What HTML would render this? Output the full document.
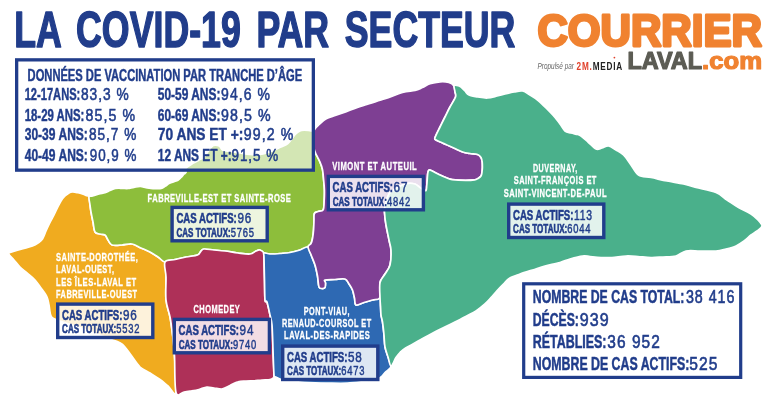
<!DOCTYPE html>
<html lang="fr">
<head>
<meta charset="utf-8">
<title>La COVID-19 par secteur</title>
<style>
html,body{margin:0;padding:0;background:#fff;}
body{width:768px;height:402px;overflow:hidden;font-family:"Liberation Sans", sans-serif;}
svg{display:block;font-family:"Liberation Sans", sans-serif;}
</style>
</head>
<body>
<svg width="768" height="402" viewBox="0 0 768 402">
<rect width="768" height="402" fill="#fff"/>
<g stroke="#fff" stroke-width="1.7" stroke-linejoin="round">
<path fill="#f0ab1f" d="M8.8 253.5C8.9 252.0 12.5 251.8 15.0 251.0C17.5 250.2 21.1 249.3 24.0 248.5C26.9 247.7 30.2 246.9 32.5 246.0C34.8 245.1 36.3 244.2 38.0 243.0C39.7 241.8 41.2 241.0 42.5 239.0C43.8 237.0 44.8 233.8 46.0 231.0C47.2 228.2 48.7 225.2 50.0 222.5C51.3 219.8 52.8 217.5 54.0 215.0C55.2 212.5 56.3 209.8 57.5 207.5C58.7 205.2 59.8 202.9 61.0 201.0C62.2 199.1 63.7 197.3 65.0 196.0C66.3 194.7 67.8 193.7 69.0 193.0C70.2 192.3 71.0 192.1 72.5 192.0C74.0 191.9 76.3 192.4 78.0 192.7C79.7 193.0 81.2 193.5 82.5 194.0C83.8 194.5 84.9 195.0 86.0 195.5C87.1 196.0 88.3 195.4 89.0 197.0C89.7 198.6 89.7 202.5 90.0 205.0C90.3 207.5 90.5 209.2 91.0 212.0C91.5 214.8 92.3 218.7 93.0 222.0C93.7 225.3 93.8 230.0 95.0 232.0C96.2 234.0 98.3 233.5 100.0 234.0C101.7 234.5 103.7 234.0 105.0 235.0C106.3 236.0 106.8 238.3 108.0 240.0C109.2 241.7 109.7 244.2 112.0 245.0C114.3 245.8 118.7 245.2 122.0 245.0C125.3 244.8 128.8 243.5 132.0 244.0C135.2 244.5 138.0 246.7 141.0 248.0C144.0 249.3 147.2 250.5 150.0 252.0C152.8 253.5 155.5 255.3 158.0 257.0C160.5 258.7 163.7 258.7 165.0 262.0C166.3 265.3 165.8 270.7 166.0 277.0C166.2 283.3 165.3 293.3 166.0 300.0C166.7 306.7 168.8 310.7 170.0 317.0C171.2 323.3 172.2 331.5 173.0 338.0C173.8 344.5 174.0 346.9 174.5 356.0C175.0 365.1 177.1 387.5 176.0 392.5C174.9 397.5 170.7 388.2 168.0 386.0C165.3 383.8 163.0 381.7 160.0 379.5C157.0 377.3 153.3 375.1 150.0 373.0C146.7 370.9 143.2 370.0 140.0 367.0C136.8 364.0 133.9 358.8 131.0 355.0C128.1 351.2 125.0 346.8 122.5 344.5C120.0 342.2 118.1 341.9 116.0 341.0C113.9 340.1 115.3 341.0 110.0 339.0C104.7 337.0 92.8 332.2 84.0 329.0C75.2 325.8 62.5 322.2 57.0 320.0C51.5 317.8 52.3 318.5 51.0 316.0C49.7 313.5 49.7 308.2 49.0 305.0C48.3 301.8 48.3 299.8 47.0 297.0C45.7 294.2 43.0 290.8 41.0 288.0C39.0 285.2 37.3 282.5 35.0 280.0C32.7 277.5 29.5 275.2 27.0 273.0C24.5 270.8 22.2 269.2 20.0 267.0C17.8 264.8 15.9 262.2 14.0 260.0C12.1 257.8 8.6 255.0 8.8 253.5Z"/>
<path fill="#8dbe3b" d="M89.0 197.0C89.4 195.5 90.8 196.5 92.5 196.0C94.2 195.5 96.9 194.6 99.0 194.0C101.1 193.4 103.2 193.3 105.0 192.7C106.8 192.1 108.3 191.2 110.0 190.5C111.7 189.8 113.4 188.9 115.4 188.5C117.4 188.1 119.9 188.3 122.0 188.3C124.1 188.3 126.0 188.7 128.0 188.5C130.0 188.3 131.9 187.6 134.0 187.3C136.1 187.0 138.4 186.4 140.4 186.5C142.4 186.6 144.3 187.4 146.0 187.7C147.7 188.0 149.1 188.3 150.8 188.5C152.5 188.7 154.3 188.7 156.0 188.7C157.7 188.7 159.7 188.9 161.2 188.5C162.8 188.1 164.1 186.9 165.5 186.0C166.9 185.1 168.2 184.0 169.6 183.3C171.0 182.6 172.6 182.2 174.0 181.7C175.4 181.2 176.8 180.9 178.0 180.2C179.2 179.5 180.0 178.5 181.0 177.5C182.0 176.5 183.3 174.9 184.2 174.0C185.1 173.1 186.0 172.8 186.2 171.9C186.5 171.0 184.6 169.9 185.8 168.4C187.0 166.9 191.2 164.5 193.4 163.1C195.6 161.7 197.2 161.0 199.0 160.0C200.8 159.0 202.7 158.5 204.0 157.3C205.3 156.1 206.0 154.4 207.0 153.0C208.0 151.6 208.8 150.2 209.9 149.0C211.0 147.8 211.9 146.0 213.4 145.5C214.9 145.0 217.6 145.3 219.2 146.1C220.8 146.9 220.8 149.3 222.8 150.2C224.7 151.1 228.1 151.0 231.0 151.5C233.9 152.0 236.8 152.5 240.0 153.0C243.2 153.5 246.7 154.2 250.0 154.5C253.3 154.8 257.0 154.8 260.0 154.5C263.0 154.2 265.4 153.3 268.0 152.5C270.6 151.7 273.4 150.3 275.6 149.4C277.8 148.5 279.2 147.8 281.0 147.0C282.8 146.2 284.8 145.8 286.5 144.6C288.2 143.4 289.6 141.6 291.0 140.0C292.4 138.4 293.5 136.3 294.7 135.0C295.9 133.7 296.9 132.8 298.0 132.0C299.1 131.2 299.9 130.6 301.6 130.3C303.3 130.0 306.8 130.2 308.4 130.3C310.0 130.4 310.5 131.1 311.5 131.0C312.5 130.9 314.0 128.5 314.3 130.0C314.6 131.5 313.5 136.7 313.5 140.0C313.5 143.3 313.8 147.2 314.3 149.8C314.9 152.4 315.9 153.7 316.8 155.7C317.7 157.7 318.9 159.4 319.8 161.7C320.8 164.0 321.9 166.6 322.5 169.6C323.1 172.6 323.3 176.2 323.6 179.6C323.9 183.0 324.3 186.4 324.4 189.8C324.5 193.2 324.4 196.7 324.2 200.0C324.0 203.3 324.2 207.9 323.2 209.8C322.2 211.7 319.5 210.9 318.0 211.5C316.5 212.1 315.1 212.1 314.4 213.5C313.7 214.9 314.1 217.3 314.0 220.0C313.9 222.7 313.8 226.5 313.6 229.5C313.4 232.5 313.0 235.7 312.6 238.0C312.2 240.3 311.8 242.0 311.0 243.5C310.2 245.0 309.8 245.9 308.0 247.0C306.2 248.1 303.0 249.1 300.0 250.0C297.0 250.9 293.3 251.9 290.0 252.5C286.7 253.1 283.3 253.2 280.0 253.5C276.7 253.8 272.7 254.1 270.0 254.0C267.3 253.9 265.7 253.7 264.0 253.0C262.3 252.3 261.3 250.3 260.0 250.0C258.7 249.7 257.7 250.3 256.0 251.0C254.3 251.7 253.0 253.7 250.0 254.0C247.0 254.3 242.2 253.5 238.0 253.0C233.8 252.5 229.0 251.5 225.0 251.0C221.0 250.5 217.5 250.3 214.0 250.0C210.5 249.7 206.2 248.8 204.0 249.0C201.8 249.2 202.1 250.0 201.0 251.0C199.9 252.0 200.0 254.0 197.5 255.0C195.0 256.0 189.8 256.2 186.0 257.0C182.2 257.8 178.5 258.7 175.0 259.5C171.5 260.3 167.8 262.4 165.0 262.0C162.2 261.6 160.5 258.7 158.0 257.0C155.5 255.3 152.8 253.5 150.0 252.0C147.2 250.5 144.0 249.3 141.0 248.0C138.0 246.7 135.2 244.5 132.0 244.0C128.8 243.5 125.3 244.8 122.0 245.0C118.7 245.2 114.3 245.8 112.0 245.0C109.7 244.2 109.2 241.7 108.0 240.0C106.8 238.3 106.3 236.0 105.0 235.0C103.7 234.0 101.7 234.5 100.0 234.0C98.3 233.5 96.2 234.0 95.0 232.0C93.8 230.0 93.7 225.3 93.0 222.0C92.3 218.7 91.5 214.8 91.0 212.0C90.5 209.2 90.3 207.5 90.0 205.0C89.7 202.5 88.6 198.5 89.0 197.0Z"/>
<path fill="#ae3058" d="M165.0 262.0C166.5 259.1 171.5 260.3 175.0 259.5C178.5 258.7 182.2 257.8 186.0 257.0C189.8 256.2 195.0 256.0 197.5 255.0C200.0 254.0 199.9 252.0 201.0 251.0C202.1 250.0 201.8 249.2 204.0 249.0C206.2 248.8 210.5 249.7 214.0 250.0C217.5 250.3 221.0 250.5 225.0 251.0C229.0 251.5 233.8 252.5 238.0 253.0C242.2 253.5 247.0 254.3 250.0 254.0C253.0 253.7 254.3 251.7 256.0 251.0C257.7 250.3 258.7 249.7 260.0 250.0C261.3 250.3 263.3 251.8 264.0 253.0C264.7 254.2 263.9 253.0 264.0 257.5C264.1 262.0 264.3 272.9 264.5 280.0C264.7 287.1 264.6 296.3 265.0 300.0C265.4 303.7 266.2 299.5 267.0 302.0C267.8 304.5 269.2 311.2 270.0 315.0C270.8 318.8 271.5 319.2 272.0 325.0C272.5 330.8 272.7 341.7 273.0 350.0C273.3 358.3 274.0 370.3 274.0 375.0C274.0 379.7 273.7 377.2 273.0 378.0C272.3 378.8 271.8 379.2 270.0 379.5C268.2 379.8 264.7 379.8 262.0 380.0C259.3 380.2 256.4 380.6 253.8 380.8C251.1 380.9 248.6 380.8 246.0 381.0C243.4 381.2 240.8 380.9 238.1 381.7C235.4 382.4 232.6 384.3 230.0 385.5C227.4 386.7 225.2 388.5 222.5 388.9C219.8 389.3 216.6 388.3 214.0 388.0C211.4 387.7 209.4 386.8 206.9 387.0C204.4 387.2 201.6 388.8 199.0 389.5C196.4 390.2 193.8 390.6 191.3 391.0C188.8 391.4 186.6 391.8 184.0 392.0C181.4 392.2 177.6 398.5 176.0 392.5C174.4 386.5 175.0 365.1 174.5 356.0C174.0 346.9 173.8 344.5 173.0 338.0C172.2 331.5 171.2 323.3 170.0 317.0C168.8 310.7 166.7 306.7 166.0 300.0C165.3 293.3 166.2 283.3 166.0 277.0C165.8 270.7 163.5 264.9 165.0 262.0Z"/>
<path fill="#2e69b3" d="M264.0 253.0C265.0 252.4 267.3 253.9 270.0 254.0C272.7 254.1 276.7 253.8 280.0 253.5C283.3 253.2 286.7 253.1 290.0 252.5C293.3 251.9 297.0 250.9 300.0 250.0C303.0 249.1 306.1 246.0 308.0 247.0C309.9 248.0 310.3 253.0 311.5 256.0C312.7 259.0 314.0 261.7 315.0 265.0C316.0 268.3 316.8 272.3 317.5 276.0C318.2 279.7 318.2 284.9 319.0 287.0C319.8 289.1 321.0 288.4 322.0 288.5C323.0 288.6 324.4 288.4 325.0 287.5C325.6 286.6 325.5 284.2 325.5 283.0C325.5 281.8 323.4 280.6 325.0 280.0C326.6 279.4 331.7 279.7 335.0 279.5C338.3 279.3 342.7 278.2 345.0 279.0C347.3 279.8 347.8 282.2 349.0 284.0C350.2 285.8 351.6 287.7 352.5 290.0C353.4 292.3 353.9 295.5 354.5 298.0C355.1 300.5 354.4 304.2 356.0 305.0C357.6 305.8 361.2 303.3 364.0 302.5C366.8 301.7 369.8 300.8 372.5 300.0C375.2 299.2 378.7 296.5 380.0 297.5C381.3 298.5 380.3 303.1 380.5 306.0C380.7 308.9 380.7 312.3 381.0 315.0C381.3 317.7 382.0 318.7 382.5 322.0C383.0 325.3 383.6 330.8 384.0 335.0C384.4 339.2 384.3 343.3 385.0 347.0C385.7 350.7 387.0 353.8 388.0 357.0C389.0 360.2 391.0 363.8 391.0 366.0C391.0 368.2 389.0 368.9 388.0 370.0C387.0 371.1 386.2 371.3 385.0 372.5C383.8 373.7 382.6 375.8 381.0 377.0C379.4 378.2 378.3 379.2 375.6 380.0C372.9 380.8 369.7 381.0 365.0 381.5C360.3 382.0 353.0 383.0 347.5 383.2C342.0 383.5 338.1 383.4 331.9 383.2C325.6 383.1 316.1 382.8 310.0 382.5C303.9 382.2 299.2 381.8 295.0 381.5C290.8 381.2 287.5 381.2 285.0 380.8C282.5 380.3 281.6 379.6 280.0 379.0C278.4 378.4 276.6 377.7 275.6 377.0C274.6 376.3 274.4 379.5 274.0 375.0C273.6 370.5 273.3 358.3 273.0 350.0C272.7 341.7 272.5 330.8 272.0 325.0C271.5 319.2 270.8 318.8 270.0 315.0C269.2 311.2 267.8 304.5 267.0 302.0C266.2 299.5 265.4 303.7 265.0 300.0C264.6 296.3 264.7 287.1 264.5 280.0C264.3 272.9 264.1 262.0 264.0 257.5C263.9 253.0 263.0 253.6 264.0 253.0Z"/>
<path fill="#7e3f93" d="M314.3 130.0C315.4 127.3 317.9 125.8 319.8 124.0C321.7 122.2 323.5 120.3 325.8 119.0C328.1 117.7 330.0 117.3 333.7 116.0C337.4 114.7 342.8 112.8 348.0 111.0C353.2 109.2 358.8 107.0 365.0 105.0C371.2 103.0 378.8 100.8 385.0 98.8C391.2 96.7 397.5 93.9 402.5 92.5C407.5 91.1 411.7 91.3 415.0 90.5C418.3 89.7 420.0 88.6 422.5 87.5C425.0 86.4 427.1 84.7 430.0 83.8C432.9 82.8 436.9 82.0 440.0 81.8C443.1 81.5 446.4 81.8 448.8 82.5C451.1 83.2 453.0 84.4 454.0 86.0C455.0 87.6 454.8 90.2 455.0 92.0C455.2 93.8 456.3 94.5 455.5 97.0C454.7 99.5 451.8 103.7 450.0 107.0C448.2 110.3 446.7 113.7 445.0 117.0C443.3 120.3 441.7 123.6 440.0 127.0C438.3 130.4 435.7 135.3 435.0 137.5C434.3 139.7 434.8 139.1 436.0 140.0C437.2 140.9 440.3 142.0 442.5 143.0C444.7 144.0 447.1 145.0 449.3 146.0C451.6 147.0 453.8 148.0 456.0 149.0C458.2 150.0 460.4 151.2 462.7 152.0C465.0 152.8 467.5 153.1 470.0 153.5C472.5 153.9 475.8 153.8 477.6 154.5C479.4 155.2 480.2 156.2 481.0 157.5C481.8 158.8 482.0 160.4 482.2 162.0C482.4 163.6 482.4 165.3 482.4 167.0C482.4 168.7 482.2 170.5 482.0 172.0C481.8 173.5 481.7 174.9 481.0 176.0C480.3 177.1 479.1 177.9 478.0 178.5C476.9 179.1 476.7 179.5 474.6 179.8C472.6 180.1 469.4 180.3 465.7 180.3C462.0 180.3 455.3 180.0 452.2 179.6C449.1 179.2 448.7 178.6 447.0 178.0C445.3 177.4 443.6 176.6 441.8 175.8C440.0 175.0 437.8 173.9 436.0 173.0C434.2 172.1 432.4 171.1 431.3 170.6C430.2 170.1 429.7 169.6 429.1 170.0C428.5 170.4 428.1 171.1 427.8 172.8C427.5 174.5 427.4 177.8 427.2 180.0C427.0 182.2 426.9 184.2 426.7 186.0C426.5 187.8 426.7 189.9 426.0 190.5C425.3 191.1 423.6 190.0 422.4 189.3C421.1 188.6 419.7 187.2 418.5 186.3C417.3 185.4 416.6 184.5 415.0 184.0C413.4 183.5 410.8 183.2 409.0 183.3C407.2 183.4 406.0 183.8 404.5 184.3C403.0 184.8 401.8 185.4 400.0 186.3C398.2 187.2 395.8 188.8 394.0 190.0C392.2 191.2 390.6 191.7 389.3 193.4C388.1 195.1 387.2 197.9 386.5 200.0C385.8 202.1 385.3 203.9 385.0 206.0C384.7 208.1 384.3 209.3 384.5 212.5C384.7 215.7 385.2 220.4 386.0 225.0C386.8 229.6 388.2 235.8 389.0 240.0C389.8 244.2 390.8 245.8 391.0 250.0C391.2 254.2 391.0 261.0 390.0 265.0C389.0 269.0 386.7 271.1 385.0 274.0C383.3 276.9 380.8 278.6 380.0 282.5C379.2 286.4 381.2 294.6 380.0 297.5C378.8 300.4 375.2 299.2 372.5 300.0C369.8 300.8 366.8 301.7 364.0 302.5C361.2 303.3 357.6 305.8 356.0 305.0C354.4 304.2 355.1 300.5 354.5 298.0C353.9 295.5 353.4 292.3 352.5 290.0C351.6 287.7 350.2 285.8 349.0 284.0C347.8 282.2 347.3 279.8 345.0 279.0C342.7 278.2 338.3 279.3 335.0 279.5C331.7 279.7 326.6 279.4 325.0 280.0C323.4 280.6 325.5 281.8 325.5 283.0C325.5 284.2 325.6 286.6 325.0 287.5C324.4 288.4 323.0 288.6 322.0 288.5C321.0 288.4 319.8 289.1 319.0 287.0C318.2 284.9 318.2 279.7 317.5 276.0C316.8 272.3 316.0 268.3 315.0 265.0C314.0 261.7 312.7 259.0 311.5 256.0C310.3 253.0 308.1 249.1 308.0 247.0C307.9 244.9 310.2 245.0 311.0 243.5C311.8 242.0 312.2 240.3 312.6 238.0C313.0 235.7 313.4 232.5 313.6 229.5C313.8 226.5 313.9 222.7 314.0 220.0C314.1 217.3 313.7 214.9 314.4 213.5C315.1 212.1 316.5 212.1 318.0 211.5C319.5 210.9 322.2 211.7 323.2 209.8C324.2 207.9 324.0 203.3 324.2 200.0C324.4 196.7 324.5 193.2 324.4 189.8C324.3 186.4 323.9 183.0 323.6 179.6C323.3 176.2 323.1 172.6 322.5 169.6C321.9 166.6 320.8 164.0 319.8 161.7C318.9 159.4 317.7 157.7 316.8 155.7C315.9 153.7 314.9 152.4 314.3 149.8C313.8 147.2 313.5 143.3 313.5 140.0C313.5 136.7 313.2 132.7 314.3 130.0Z"/>
<path fill="#4ab08b" d="M454.0 86.0C454.3 84.9 455.8 85.3 457.0 85.5C458.2 85.7 459.7 86.1 461.0 87.0C462.3 87.9 463.7 89.7 465.0 91.0C466.3 92.3 466.8 94.0 469.0 95.0C471.2 96.0 474.9 96.5 478.0 97.0C481.1 97.5 484.3 98.2 487.5 98.0C490.7 97.8 494.1 96.7 497.0 96.0C499.9 95.3 502.2 94.7 505.0 94.0C507.8 93.3 511.1 92.5 514.0 92.0C516.9 91.5 519.8 90.5 522.5 91.0C525.2 91.5 527.5 93.5 530.0 95.0C532.5 96.5 534.8 97.8 537.5 100.0C540.2 102.2 543.1 105.1 546.0 108.0C548.9 110.9 552.7 114.8 555.0 117.5C557.3 120.2 558.3 121.8 560.0 124.0C561.7 126.2 563.2 129.5 565.0 131.0C566.8 132.5 568.9 132.4 571.0 133.0C573.1 133.6 575.8 134.0 577.5 134.5C579.2 135.0 579.2 134.8 581.0 136.0C582.8 137.2 585.5 139.8 588.0 142.0C590.5 144.2 593.7 148.0 596.0 149.0C598.3 150.0 599.9 148.5 602.0 148.0C604.1 147.5 606.2 145.7 608.5 146.0C610.8 146.3 613.5 148.5 616.0 150.0C618.5 151.5 621.0 152.5 623.5 155.0C626.0 157.5 628.5 161.7 631.0 165.0C633.5 168.3 635.2 172.9 638.5 175.0C641.8 177.1 646.2 176.5 651.0 177.5C655.8 178.5 661.6 179.9 667.0 181.0C672.4 182.1 678.7 182.9 683.5 184.0C688.3 185.1 690.6 186.1 696.0 187.5C701.4 188.9 710.8 190.4 716.0 192.5C721.2 194.6 723.2 197.5 727.0 200.0C730.8 202.5 734.5 205.2 738.5 207.5C742.5 209.8 747.8 211.9 751.0 214.0C754.2 216.1 756.2 218.0 758.0 220.0C759.8 222.0 762.2 224.2 762.0 226.0C761.8 227.8 758.8 229.5 757.0 231.0C755.2 232.5 753.2 233.3 751.0 235.0C748.8 236.7 746.5 239.2 744.0 241.0C741.5 242.8 739.0 244.7 736.0 246.0C733.0 247.3 729.3 248.2 726.0 249.0C722.7 249.8 720.3 250.7 716.0 251.0C711.7 251.3 705.0 251.0 700.0 251.0C695.0 251.0 690.0 250.2 686.0 251.0C682.0 251.8 679.8 255.0 676.0 256.0C672.2 257.0 667.2 256.8 663.0 257.0C658.8 257.2 655.2 257.6 651.0 257.5C646.8 257.4 642.2 256.8 638.0 256.5C633.8 256.2 630.3 255.8 626.0 256.0C621.7 256.2 616.2 257.2 612.0 257.5C607.8 257.8 604.7 257.7 601.0 257.5C597.3 257.3 593.1 256.8 590.0 256.5C586.9 256.2 585.8 255.6 582.5 256.0C579.2 256.4 573.8 257.9 570.0 259.0C566.2 260.1 564.2 261.3 560.0 262.5C555.8 263.7 549.6 264.8 545.0 266.0C540.4 267.2 536.7 268.7 532.5 270.0C528.3 271.3 523.8 272.6 520.0 274.0C516.2 275.4 512.2 276.6 509.5 278.2C506.8 279.8 505.8 281.7 504.0 283.5C502.2 285.3 500.6 286.8 498.6 289.0C496.6 291.2 494.3 294.0 492.0 296.5C489.7 299.0 487.6 301.6 484.9 304.0C482.2 306.4 479.2 308.9 476.0 311.0C472.8 313.1 470.0 314.2 465.7 316.5C461.4 318.8 455.0 322.0 450.0 324.5C445.0 327.0 440.6 328.9 435.6 331.5C430.6 334.1 425.0 337.2 420.0 340.0C415.0 342.8 408.9 345.9 405.6 348.0C402.3 350.1 401.6 350.9 400.0 352.5C398.4 354.1 397.5 355.2 396.0 357.5C394.5 359.8 392.3 366.1 391.0 366.0C389.7 365.9 389.0 360.2 388.0 357.0C387.0 353.8 385.7 350.7 385.0 347.0C384.3 343.3 384.4 339.2 384.0 335.0C383.6 330.8 383.0 325.3 382.5 322.0C382.0 318.7 381.3 317.7 381.0 315.0C380.7 312.3 380.7 308.9 380.5 306.0C380.3 303.1 380.1 301.4 380.0 297.5C379.9 293.6 379.2 286.4 380.0 282.5C380.8 278.6 383.3 276.9 385.0 274.0C386.7 271.1 389.0 269.0 390.0 265.0C391.0 261.0 391.2 254.2 391.0 250.0C390.8 245.8 389.8 244.2 389.0 240.0C388.2 235.8 386.8 229.6 386.0 225.0C385.2 220.4 384.7 215.7 384.5 212.5C384.3 209.3 384.7 208.1 385.0 206.0C385.3 203.9 385.8 202.1 386.5 200.0C387.2 197.9 388.1 195.1 389.3 193.4C390.6 191.7 392.2 191.2 394.0 190.0C395.8 188.8 398.2 187.2 400.0 186.3C401.8 185.4 403.0 184.8 404.5 184.3C406.0 183.8 407.2 183.4 409.0 183.3C410.8 183.2 413.4 183.5 415.0 184.0C416.6 184.5 417.3 185.4 418.5 186.3C419.7 187.2 421.1 188.6 422.4 189.3C423.6 190.0 425.3 191.1 426.0 190.5C426.7 189.9 426.5 187.8 426.7 186.0C426.9 184.2 427.0 182.2 427.2 180.0C427.4 177.8 427.5 174.5 427.8 172.8C428.1 171.1 428.5 170.4 429.1 170.0C429.7 169.6 430.2 170.1 431.3 170.6C432.4 171.1 434.2 172.1 436.0 173.0C437.8 173.9 440.0 175.0 441.8 175.8C443.6 176.6 445.3 177.4 447.0 178.0C448.7 178.6 449.1 179.2 452.2 179.6C455.3 180.0 462.0 180.3 465.7 180.3C469.4 180.3 472.6 180.1 474.6 179.8C476.7 179.5 476.9 179.1 478.0 178.5C479.1 177.9 480.3 177.1 481.0 176.0C481.7 174.9 481.8 173.5 482.0 172.0C482.2 170.5 482.4 168.7 482.4 167.0C482.4 165.3 482.4 163.6 482.2 162.0C482.0 160.4 481.8 158.8 481.0 157.5C480.2 156.2 479.4 155.2 477.6 154.5C475.8 153.8 472.5 153.9 470.0 153.5C467.5 153.1 465.0 152.8 462.7 152.0C460.4 151.2 458.2 150.0 456.0 149.0C453.8 148.0 451.6 147.0 449.3 146.0C447.1 145.0 444.7 144.0 442.5 143.0C440.3 142.0 437.2 140.9 436.0 140.0C434.8 139.1 434.3 139.7 435.0 137.5C435.7 135.3 438.3 130.4 440.0 127.0C441.7 123.6 443.3 120.3 445.0 117.0C446.7 113.7 448.2 110.3 450.0 107.0C451.8 103.7 454.7 99.5 455.5 97.0C456.3 94.5 455.2 93.8 455.0 92.0C454.8 90.2 453.7 87.1 454.0 86.0Z"/>
</g>
<text x="14.2" y="47.2" font-size="50.3" font-weight="bold" fill="#213d8b" text-anchor="start" textLength="501.2" lengthAdjust="spacingAndGlyphs" word-spacing="8" stroke="#213d8b" stroke-width="1.5" stroke-linejoin="round">LA COVID-19 PAR SECTEUR</text>
<rect x="16.65" y="59.85" width="296.7" height="110.3" fill="#fff" fill-opacity="0.62" stroke="#213d8b" stroke-width="3.3"/>
<text x="27.6" y="81.4" font-size="16" font-weight="bold" fill="#213d8b" text-anchor="start" textLength="274.5" lengthAdjust="spacingAndGlyphs" stroke="#213d8b" stroke-width="0.45">DONNÉES DE VACCINATION PAR TRANCHE D’ÂGE</text>
<text x="24.7" y="100.0" font-size="16.3" font-weight="bold" fill="#213d8b" text-anchor="start" textLength="55.6" lengthAdjust="spacingAndGlyphs" stroke="#213d8b" stroke-width="0.45">12-17ANS:</text>
<text x="80.9" y="100.0" font-size="16" font-weight="normal" fill="#213d8b" text-anchor="start" textLength="48.9" lengthAdjust="spacingAndGlyphs" stroke="#213d8b" stroke-width="0.55" letter-spacing="1.2">83,3 %</text>
<text x="24.7" y="120.8" font-size="16.3" font-weight="bold" fill="#213d8b" text-anchor="start" textLength="59.7" lengthAdjust="spacingAndGlyphs" stroke="#213d8b" stroke-width="0.45">18-29 ANS:</text>
<text x="85.6" y="120.8" font-size="16" font-weight="normal" fill="#213d8b" text-anchor="start" textLength="50.5" lengthAdjust="spacingAndGlyphs" stroke="#213d8b" stroke-width="0.55" letter-spacing="1.2">85,5 %</text>
<text x="24.7" y="140.0" font-size="16.3" font-weight="bold" fill="#213d8b" text-anchor="start" textLength="63.2" lengthAdjust="spacingAndGlyphs" stroke="#213d8b" stroke-width="0.45">30-39 ANS:</text>
<text x="88.9" y="140.0" font-size="16" font-weight="normal" fill="#213d8b" text-anchor="start" textLength="48.5" lengthAdjust="spacingAndGlyphs" stroke="#213d8b" stroke-width="0.55" letter-spacing="1.2">85,7 %</text>
<text x="24.7" y="160.7" font-size="16.3" font-weight="bold" fill="#213d8b" text-anchor="start" textLength="63.2" lengthAdjust="spacingAndGlyphs" stroke="#213d8b" stroke-width="0.45">40-49 ANS:</text>
<text x="89.7" y="160.7" font-size="16" font-weight="normal" fill="#213d8b" text-anchor="start" textLength="47.7" lengthAdjust="spacingAndGlyphs" stroke="#213d8b" stroke-width="0.55" letter-spacing="1.2">90,9 %</text>
<text x="157.8" y="100.0" font-size="16.3" font-weight="bold" fill="#213d8b" text-anchor="start" textLength="62.6" lengthAdjust="spacingAndGlyphs" stroke="#213d8b" stroke-width="0.45">50-59 ANS:</text>
<text x="221.1" y="100.0" font-size="16" font-weight="normal" fill="#213d8b" text-anchor="start" textLength="49.9" lengthAdjust="spacingAndGlyphs" stroke="#213d8b" stroke-width="0.55" letter-spacing="1.2">94,6 %</text>
<text x="157.8" y="120.8" font-size="16.3" font-weight="bold" fill="#213d8b" text-anchor="start" textLength="62.6" lengthAdjust="spacingAndGlyphs" stroke="#213d8b" stroke-width="0.45">60-69 ANS:</text>
<text x="221.1" y="120.8" font-size="16" font-weight="normal" fill="#213d8b" text-anchor="start" textLength="50.5" lengthAdjust="spacingAndGlyphs" stroke="#213d8b" stroke-width="0.55" letter-spacing="1.2">98,5 %</text>
<text x="157.8" y="140.0" font-size="16.3" font-weight="bold" fill="#213d8b" text-anchor="start" textLength="85.6" lengthAdjust="spacingAndGlyphs" stroke="#213d8b" stroke-width="0.45">70 ANS ET +:</text>
<text x="243.8" y="140.0" font-size="16" font-weight="normal" fill="#213d8b" text-anchor="start" textLength="50.5" lengthAdjust="spacingAndGlyphs" stroke="#213d8b" stroke-width="0.55" letter-spacing="1.2">99,2 %</text>
<text x="157.8" y="160.7" font-size="16.3" font-weight="bold" fill="#213d8b" text-anchor="start" textLength="73.9" lengthAdjust="spacingAndGlyphs" stroke="#213d8b" stroke-width="0.45">12 ANS ET +:</text>
<text x="231.4" y="160.7" font-size="16" font-weight="normal" fill="#213d8b" text-anchor="start" textLength="47.9" lengthAdjust="spacingAndGlyphs" stroke="#213d8b" stroke-width="0.55" letter-spacing="1.2">91,5 %</text>
<rect x="57.70" y="304.10" width="95.10" height="33.40" fill="#fff" fill-opacity="0.84" stroke="#213d8b" stroke-width="3.4"/>
<text x="62.0" y="319.8" font-size="14.8" font-weight="bold" fill="#213d8b" text-anchor="start" textLength="60.4" lengthAdjust="spacingAndGlyphs" stroke="#213d8b" stroke-width="0.6">CAS ACTIFS:</text>
<text x="123.0" y="319.8" font-size="14.8" font-weight="normal" fill="#213d8b" text-anchor="start" textLength="14.6" lengthAdjust="spacingAndGlyphs" stroke="#213d8b" stroke-width="0.5" letter-spacing="1.0">96</text>
<text x="62.1" y="333.4" font-size="12.1" font-weight="bold" fill="#213d8b" text-anchor="start" textLength="54.2" lengthAdjust="spacingAndGlyphs" stroke="#213d8b" stroke-width="0.6">CAS TOTAUX:</text>
<text x="116.3" y="333.4" font-size="12.1" font-weight="normal" fill="#213d8b" text-anchor="start" textLength="24.0" lengthAdjust="spacingAndGlyphs" stroke="#213d8b" stroke-width="0.45" letter-spacing="1.0">5532</text>
<rect x="172.10" y="207.40" width="95.10" height="33.40" fill="#fff" fill-opacity="0.84" stroke="#213d8b" stroke-width="3.4"/>
<text x="176.4" y="223.1" font-size="14.8" font-weight="bold" fill="#213d8b" text-anchor="start" textLength="60.4" lengthAdjust="spacingAndGlyphs" stroke="#213d8b" stroke-width="0.6">CAS ACTIFS:</text>
<text x="237.4" y="223.1" font-size="14.8" font-weight="normal" fill="#213d8b" text-anchor="start" textLength="14.6" lengthAdjust="spacingAndGlyphs" stroke="#213d8b" stroke-width="0.5" letter-spacing="1.0">96</text>
<text x="176.5" y="236.7" font-size="12.1" font-weight="bold" fill="#213d8b" text-anchor="start" textLength="54.2" lengthAdjust="spacingAndGlyphs" stroke="#213d8b" stroke-width="0.6">CAS TOTAUX:</text>
<text x="230.7" y="236.7" font-size="12.1" font-weight="normal" fill="#213d8b" text-anchor="start" textLength="24.0" lengthAdjust="spacingAndGlyphs" stroke="#213d8b" stroke-width="0.45" letter-spacing="1.0">5765</text>
<rect x="174.30" y="319.40" width="95.10" height="33.40" fill="#fff" fill-opacity="0.84" stroke="#213d8b" stroke-width="3.4"/>
<text x="178.6" y="335.1" font-size="14.8" font-weight="bold" fill="#213d8b" text-anchor="start" textLength="60.4" lengthAdjust="spacingAndGlyphs" stroke="#213d8b" stroke-width="0.6">CAS ACTIFS:</text>
<text x="239.6" y="335.1" font-size="14.8" font-weight="normal" fill="#213d8b" text-anchor="start" textLength="14.6" lengthAdjust="spacingAndGlyphs" stroke="#213d8b" stroke-width="0.5" letter-spacing="1.0">94</text>
<text x="178.7" y="348.7" font-size="12.1" font-weight="bold" fill="#213d8b" text-anchor="start" textLength="54.2" lengthAdjust="spacingAndGlyphs" stroke="#213d8b" stroke-width="0.6">CAS TOTAUX:</text>
<text x="232.9" y="348.7" font-size="12.1" font-weight="normal" fill="#213d8b" text-anchor="start" textLength="24.0" lengthAdjust="spacingAndGlyphs" stroke="#213d8b" stroke-width="0.45" letter-spacing="1.0">9740</text>
<rect x="282.70" y="346.10" width="95.10" height="33.40" fill="#fff" fill-opacity="0.84" stroke="#213d8b" stroke-width="3.4"/>
<text x="287.0" y="361.8" font-size="14.8" font-weight="bold" fill="#213d8b" text-anchor="start" textLength="60.4" lengthAdjust="spacingAndGlyphs" stroke="#213d8b" stroke-width="0.6">CAS ACTIFS:</text>
<text x="348.0" y="361.8" font-size="14.8" font-weight="normal" fill="#213d8b" text-anchor="start" textLength="14.6" lengthAdjust="spacingAndGlyphs" stroke="#213d8b" stroke-width="0.5" letter-spacing="1.0">58</text>
<text x="287.1" y="375.4" font-size="12.1" font-weight="bold" fill="#213d8b" text-anchor="start" textLength="54.2" lengthAdjust="spacingAndGlyphs" stroke="#213d8b" stroke-width="0.6">CAS TOTAUX:</text>
<text x="341.3" y="375.4" font-size="12.1" font-weight="normal" fill="#213d8b" text-anchor="start" textLength="24.0" lengthAdjust="spacingAndGlyphs" stroke="#213d8b" stroke-width="0.45" letter-spacing="1.0">6473</text>
<rect x="328.30" y="176.40" width="95.10" height="33.40" fill="#fff" fill-opacity="0.84" stroke="#213d8b" stroke-width="3.4"/>
<text x="332.6" y="192.1" font-size="14.8" font-weight="bold" fill="#213d8b" text-anchor="start" textLength="60.4" lengthAdjust="spacingAndGlyphs" stroke="#213d8b" stroke-width="0.6">CAS ACTIFS:</text>
<text x="393.6" y="192.1" font-size="14.8" font-weight="normal" fill="#213d8b" text-anchor="start" textLength="14.6" lengthAdjust="spacingAndGlyphs" stroke="#213d8b" stroke-width="0.5" letter-spacing="1.0">67</text>
<text x="332.7" y="205.7" font-size="12.1" font-weight="bold" fill="#213d8b" text-anchor="start" textLength="54.2" lengthAdjust="spacingAndGlyphs" stroke="#213d8b" stroke-width="0.6">CAS TOTAUX:</text>
<text x="386.9" y="205.7" font-size="12.1" font-weight="normal" fill="#213d8b" text-anchor="start" textLength="24.0" lengthAdjust="spacingAndGlyphs" stroke="#213d8b" stroke-width="0.45" letter-spacing="1.0">4842</text>
<rect x="508.70" y="204.10" width="95.10" height="33.40" fill="#fff" fill-opacity="0.84" stroke="#213d8b" stroke-width="3.4"/>
<text x="513.0" y="219.8" font-size="14.8" font-weight="bold" fill="#213d8b" text-anchor="start" textLength="60.4" lengthAdjust="spacingAndGlyphs" stroke="#213d8b" stroke-width="0.6">CAS ACTIFS:</text>
<text x="574.0" y="219.8" font-size="14.8" font-weight="normal" fill="#213d8b" text-anchor="start" textLength="18.6" lengthAdjust="spacingAndGlyphs" stroke="#213d8b" stroke-width="0.5" letter-spacing="1.0">113</text>
<text x="513.1" y="233.4" font-size="12.1" font-weight="bold" fill="#213d8b" text-anchor="start" textLength="54.2" lengthAdjust="spacingAndGlyphs" stroke="#213d8b" stroke-width="0.6">CAS TOTAUX:</text>
<text x="567.3" y="233.4" font-size="12.1" font-weight="normal" fill="#213d8b" text-anchor="start" textLength="24.0" lengthAdjust="spacingAndGlyphs" stroke="#213d8b" stroke-width="0.45" letter-spacing="1.0">6044</text>
<text x="56.0" y="261.0" font-size="10.9" font-weight="bold" fill="#fff" text-anchor="start" textLength="82.3" lengthAdjust="spacingAndGlyphs" stroke="#fff" stroke-width="0.3" letter-spacing="0.7">SAINTE-DOROTHÉE,</text>
<text x="56.0" y="273.4" font-size="10.9" font-weight="bold" fill="#fff" text-anchor="start" textLength="58.5" lengthAdjust="spacingAndGlyphs" stroke="#fff" stroke-width="0.3" letter-spacing="0.7">LAVAL-OUEST,</text>
<text x="56.0" y="285.7" font-size="10.9" font-weight="bold" fill="#fff" text-anchor="start" textLength="80.6" lengthAdjust="spacingAndGlyphs" stroke="#fff" stroke-width="0.3" letter-spacing="0.7">LES ÎLES-LAVAL ET</text>
<text x="56.0" y="297.5" font-size="10.9" font-weight="bold" fill="#fff" text-anchor="start" textLength="81.6" lengthAdjust="spacingAndGlyphs" stroke="#fff" stroke-width="0.3" letter-spacing="0.7">FABREVILLE-OUEST</text>
<text x="147.6" y="201.7" font-size="10.9" font-weight="bold" fill="#fff" text-anchor="start" textLength="143.7" lengthAdjust="spacingAndGlyphs" stroke="#fff" stroke-width="0.3" letter-spacing="0.7">FABREVILLE-EST ET SAINTE-ROSE</text>
<text x="193.5" y="312.6" font-size="10.9" font-weight="bold" fill="#fff" text-anchor="start" textLength="46.8" lengthAdjust="spacingAndGlyphs" stroke="#fff" stroke-width="0.3" letter-spacing="0.7">CHOMEDEY</text>
<text x="303.8" y="314.8" font-size="10.9" font-weight="bold" fill="#fff" text-anchor="start" textLength="46.2" lengthAdjust="spacingAndGlyphs" stroke="#fff" stroke-width="0.3" letter-spacing="0.7">PONT-VIAU,</text>
<text x="281.9" y="326.9" font-size="10.9" font-weight="bold" fill="#fff" text-anchor="start" textLength="89.7" lengthAdjust="spacingAndGlyphs" stroke="#fff" stroke-width="0.3" letter-spacing="0.7">RENAUD-COURSOL ET</text>
<text x="284.1" y="339.3" font-size="10.9" font-weight="bold" fill="#fff" text-anchor="start" textLength="86.2" lengthAdjust="spacingAndGlyphs" stroke="#fff" stroke-width="0.3" letter-spacing="0.7">LAVAL-DES-RAPIDES</text>
<text x="332.2" y="169.5" font-size="10.9" font-weight="bold" fill="#fff" text-anchor="start" textLength="85.0" lengthAdjust="spacingAndGlyphs" stroke="#fff" stroke-width="0.3" letter-spacing="0.7">VIMONT ET AUTEUIL</text>
<text x="533.0" y="171.7" font-size="10.9" font-weight="bold" fill="#fff" text-anchor="start" textLength="44.8" lengthAdjust="spacingAndGlyphs" stroke="#fff" stroke-width="0.3" letter-spacing="0.7">DUVERNAY,</text>
<text x="513.7" y="184.4" font-size="10.9" font-weight="bold" fill="#fff" text-anchor="start" textLength="83.2" lengthAdjust="spacingAndGlyphs" stroke="#fff" stroke-width="0.3" letter-spacing="0.7">SAINT-FRANÇOIS ET</text>
<text x="503.7" y="196.9" font-size="10.9" font-weight="bold" fill="#fff" text-anchor="start" textLength="103.3" lengthAdjust="spacingAndGlyphs" stroke="#fff" stroke-width="0.3" letter-spacing="0.7">SAINT-VINCENT-DE-PAUL</text>
<rect x="523.7" y="283.8" width="217.0" height="93.6" fill="#fff" stroke="#213d8b" stroke-width="3.2"/>
<text x="532.8" y="303.3" font-size="17.6" font-weight="bold" fill="#213d8b" text-anchor="start" textLength="151.6" lengthAdjust="spacingAndGlyphs" stroke="#213d8b" stroke-width="0.5">NOMBRE DE CAS TOTAL:</text>
<text x="685.9" y="303.3" font-size="17.8" font-weight="normal" fill="#213d8b" text-anchor="start" textLength="49.5" lengthAdjust="spacingAndGlyphs" stroke="#213d8b" stroke-width="0.6" letter-spacing="1.2">38 416</text>
<text x="532.8" y="325.5" font-size="17.6" font-weight="bold" fill="#213d8b" text-anchor="start" textLength="46.1" lengthAdjust="spacingAndGlyphs" stroke="#213d8b" stroke-width="0.5">DÉCÈS:</text>
<text x="579.7" y="325.5" font-size="17.8" font-weight="normal" fill="#213d8b" text-anchor="start" textLength="30.0" lengthAdjust="spacingAndGlyphs" stroke="#213d8b" stroke-width="0.6" letter-spacing="1.2">939</text>
<text x="532.8" y="347.8" font-size="17.6" font-weight="bold" fill="#213d8b" text-anchor="start" textLength="73.7" lengthAdjust="spacingAndGlyphs" stroke="#213d8b" stroke-width="0.5">RÉTABLIES:</text>
<text x="607.3" y="347.8" font-size="17.8" font-weight="normal" fill="#213d8b" text-anchor="start" textLength="53.5" lengthAdjust="spacingAndGlyphs" stroke="#213d8b" stroke-width="0.6" letter-spacing="1.2">36 952</text>
<text x="532.8" y="369.6" font-size="17.6" font-weight="bold" fill="#213d8b" text-anchor="start" textLength="156.5" lengthAdjust="spacingAndGlyphs" stroke="#213d8b" stroke-width="0.5">NOMBRE DE CAS ACTIFS:</text>
<text x="689.2" y="369.6" font-size="17.8" font-weight="normal" fill="#213d8b" text-anchor="start" textLength="29.2" lengthAdjust="spacingAndGlyphs" stroke="#213d8b" stroke-width="0.6" letter-spacing="1.2">525</text>
<text x="537.4" y="45.6" font-size="44.0" font-weight="bold" fill="#f08230" text-anchor="start" textLength="224.6" lengthAdjust="spacingAndGlyphs" stroke="#f08230" stroke-width="2.9" stroke-linejoin="round">COURRIER</text>
<text x="627.4" y="69.3" font-size="23.6" font-weight="bold" fill="#5c5c54" text-anchor="start" textLength="74.6" lengthAdjust="spacingAndGlyphs" stroke="#5c5c54" stroke-width="1.2" stroke-linejoin="round">LAVAL</text>
<text x="702.0" y="69.4" font-size="23.2" font-weight="bold" fill="#f08230" text-anchor="start" textLength="60.0" lengthAdjust="spacingAndGlyphs" stroke="#f08230" stroke-width="1.2" stroke-linejoin="round">.com</text>
<text x="537.5" y="69.0" font-size="8.2" font-weight="normal" fill="#666" text-anchor="start" textLength="36.5" lengthAdjust="spacingAndGlyphs" font-style="italic">Propulsé par</text>
<text x="576.6" y="69.6" font-size="11.4" font-weight="bold" textLength="46.4" letter-spacing="1.1" lengthAdjust="spacingAndGlyphs"><tspan fill="#e0402a">2M.</tspan><tspan fill="#222">MEDIA</tspan></text>
<circle cx="614.4" cy="57.6" r="0.9" fill="#e0402a"/>
</svg>
</body>
</html>
